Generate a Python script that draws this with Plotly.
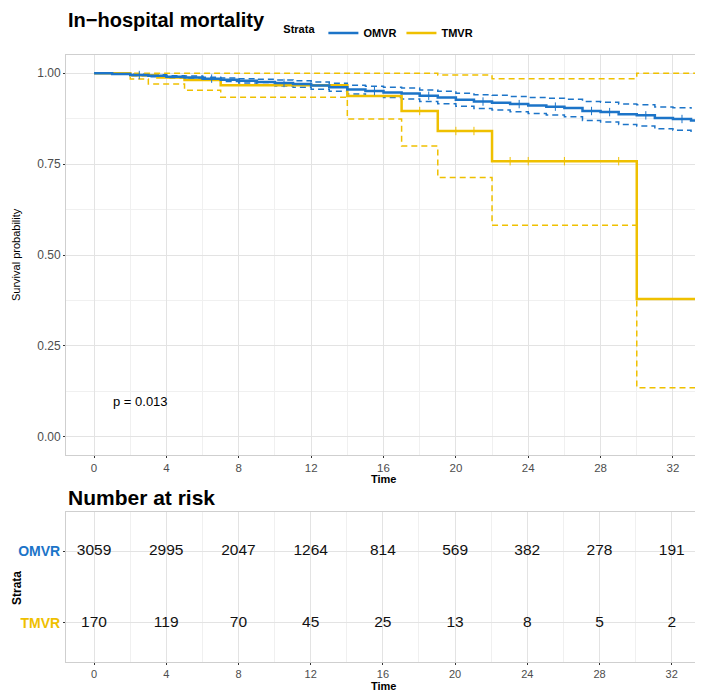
import plotly.graph_objects as go

# colours
BLUE = '#1C74C8'
GOLD = '#EFC000'

# ---- survival curves ----
omvr_t = list(range(0, 34))
omvr_s = [1.000, 0.998, 0.995, 0.993, 0.990, 0.988, 0.985, 0.982, 0.979, 0.976,
          0.973, 0.970, 0.966, 0.961, 0.955, 0.951, 0.947, 0.944, 0.938, 0.933,
          0.927, 0.922, 0.919, 0.915, 0.911, 0.908, 0.904, 0.896, 0.893, 0.887,
          0.884, 0.877, 0.874, 0.870]
omvr_lo = [1.000, 0.997, 0.993, 0.990, 0.987, 0.984, 0.981, 0.977, 0.973, 0.969,
           0.965, 0.961, 0.956, 0.950, 0.943, 0.938, 0.933, 0.929, 0.922, 0.916,
           0.909, 0.903, 0.899, 0.894, 0.889, 0.885, 0.880, 0.870, 0.866, 0.859,
           0.855, 0.847, 0.843, 0.838]
omvr_hi = [1.000, 0.999, 0.997, 0.996, 0.993, 0.992, 0.989, 0.987, 0.985, 0.983,
           0.981, 0.979, 0.976, 0.972, 0.967, 0.964, 0.961, 0.959, 0.954, 0.950,
           0.945, 0.941, 0.939, 0.936, 0.933, 0.931, 0.928, 0.922, 0.920, 0.915,
           0.913, 0.907, 0.905, 0.902]

tmvr_t = [0, 2, 3.5, 5, 7, 14, 17, 19, 22, 30, 33.5]
tmvr_s = [1.000, 0.994, 0.988, 0.981, 0.967, 0.937, 0.896, 0.841, 0.758, 0.379, 0.379]
tmvr_lo_t = [0, 2, 3, 5, 7, 14, 17, 19, 22, 30, 33.5]
tmvr_lo = [1.000, 0.984, 0.970, 0.953, 0.934, 0.874, 0.800, 0.713, 0.582, 0.135, 0.135]
tmvr_hi_t = [0, 19, 22, 30, 33.5]
tmvr_hi = [1.000, 0.995, 0.985, 1.000, 1.000]

# censor marks
omvr_cens_t = [2.5, 6.5, 10.5, 15.5, 18.5, 21.5, 23.5, 25.5, 27.5, 28.5, 30.5, 32.5]
omvr_cens_s = [0.995, 0.985, 0.973, 0.951, 0.938, 0.922, 0.915, 0.908, 0.896, 0.893, 0.884, 0.874]
tmvr_cens_t = [18, 20, 21, 23, 24, 26, 29]
tmvr_cens_s = [0.896, 0.841, 0.841, 0.758, 0.758, 0.758, 0.758]

# ---- number at risk ----
risk_times = [0, 4, 8, 12, 16, 20, 24, 28, 32]
risk_omvr = [3059, 2995, 2047, 1264, 814, 569, 382, 278, 191]
risk_tmvr = [170, 119, 70, 45, 25, 13, 8, 5, 2]

x_ticks = [0, 4, 8, 12, 16, 20, 24, 28, 32]
y_ticks = [0, 0.25, 0.5, 0.75, 1.0]
y_ticklabels = ['0.00', '0.25', '0.50', '0.75', '1.00']

fig = go.Figure()

dash_ci = '6px,4px'
fig.add_trace(go.Scatter(x=omvr_t, y=omvr_hi, mode='lines', line=dict(color=BLUE, width=1.5, dash=dash_ci, shape='hv'),
                         showlegend=False, hoverinfo='skip'))
fig.add_trace(go.Scatter(x=omvr_t, y=omvr_lo, mode='lines', line=dict(color=BLUE, width=1.5, dash=dash_ci, shape='hv'),
                         showlegend=False, hoverinfo='skip'))
fig.add_trace(go.Scatter(x=tmvr_hi_t, y=tmvr_hi, mode='lines', line=dict(color=GOLD, width=1.5, dash=dash_ci, shape='hv'),
                         showlegend=False, hoverinfo='skip'))
fig.add_trace(go.Scatter(x=tmvr_lo_t, y=tmvr_lo, mode='lines', line=dict(color=GOLD, width=1.5, dash=dash_ci, shape='hv'),
                         showlegend=False, hoverinfo='skip'))
fig.add_trace(go.Scatter(x=tmvr_t, y=tmvr_s, mode='lines', name='<b>TMVR</b>', line=dict(color=GOLD, width=2.5, shape='hv'),
                         legendrank=2))
fig.add_trace(go.Scatter(x=omvr_t + [33.5], y=omvr_s + [omvr_s[-1]], mode='lines', name='<b>OMVR</b>',
                         line=dict(color=BLUE, width=2.5, shape='hv'), legendrank=1))
fig.add_trace(go.Scatter(x=omvr_cens_t, y=omvr_cens_s, mode='markers', showlegend=False, hoverinfo='skip',
                         marker=dict(symbol='line-ns-open', size=6, color=BLUE, line=dict(color=BLUE, width=1))))
fig.add_trace(go.Scatter(x=tmvr_cens_t, y=tmvr_cens_s, mode='markers', showlegend=False, hoverinfo='skip',
                         marker=dict(symbol='line-ns-open', size=6, color=GOLD, line=dict(color=GOLD, width=1))))

# risk table
fig.add_trace(go.Scatter(x=risk_times, y=[1] * len(risk_times), mode='text', text=[str(v) for v in risk_omvr],
                         textfont=dict(size=15.5, color='#111111'),
                         xaxis='x2', yaxis='y2', showlegend=False))
fig.add_trace(go.Scatter(x=risk_times, y=[0] * len(risk_times), mode='text', text=[str(v) for v in risk_tmvr],
                         textfont=dict(size=15.5, color='#111111'),
                         xaxis='x2', yaxis='y2', showlegend=False))

axis_common = dict(showline=True, mirror=True, linecolor='#CFCFCF', linewidth=1,
                   gridcolor='#E3E3E3', gridwidth=1, zeroline=False,
                   ticks='outside', ticklen=2, tickcolor='#333333',
                   tickfont=dict(size=12, color='#4D4D4D'))
x_axis_common = {**axis_common, 'tickfont': dict(size=11.5, color='#4D4D4D')}
minor_x = dict(dtick=2, tick0=0, showgrid=True, gridcolor='#F0F0F0', ticks='')

# the page puts the figure 8px in from the top-left corner
fig.update_layout(
    width=695, height=685,
    margin=dict(l=0, r=0, t=0, b=0),
    plot_bgcolor='white', paper_bgcolor='white',
    font=dict(family='Liberation Sans', color='black'),
    xaxis=dict(domain=[0.0835, 0.9971], range=[-1.55, 33.55], tickvals=x_ticks, minor=minor_x,
               **x_axis_common),
    yaxis=dict(domain=[0.3474, 0.9314], range=[-0.05, 1.05], tickvals=y_ticks, ticktext=y_ticklabels,
               minor=dict(dtick=0.125, tick0=0, showgrid=True, gridcolor='#F0F0F0', ticks=''),
               **axis_common),
    xaxis2=dict(domain=[0.0835, 0.9914], range=[-1.55, 33.4], tickvals=x_ticks, anchor='y2',
                minor=minor_x, **{**axis_common, 'tickfont': dict(size=11, color='#4D4D4D')}),
    yaxis2=dict(domain=[0.0455, 0.2642], range=[-0.55, 1.556], anchor='x2', tickvals=[1, 0],
                ticktext=["<b><span style='color:%s'>OMVR</span></b>" % BLUE,
                          "<b><span style='color:%s'>TMVR</span></b>" % GOLD],
                **{**axis_common, 'tickfont': dict(size=14)}),
    legend=dict(orientation='h', x=0.535, xanchor='center', y=0.9635, yanchor='middle',
                title=dict(text='<b>Strata</b>', font=dict(size=11)),
                font=dict(size=11), itemwidth=30, traceorder='normal'),
    annotations=[
        dict(text='<b>In\u2212hospital mortality</b>', x=0.0835, y=0.983, xref='paper', yref='paper',
             xanchor='left', yanchor='middle', showarrow=False, font=dict(size=20)),
        dict(text='Survival probability', x=0.0, y=0.6394, xref='paper', yref='paper',
             xanchor='left', yanchor='middle', textangle=-90, showarrow=False, font=dict(size=11)),
        dict(text='<b>Time</b>', x=0.5396, y=0.3125, xref='paper', yref='paper',
             xanchor='center', yanchor='middle', showarrow=False, font=dict(size=11)),
        dict(text='p = 0.013', x=2.55, y=0.097, xref='x', yref='y', xanchor='center', yanchor='middle',
             showarrow=False, font=dict(size=13)),
        dict(text='<b>Number at risk</b>', x=0.0835, y=0.2861, xref='paper', yref='paper',
             xanchor='left', yanchor='middle', showarrow=False, font=dict(size=21)),
        dict(text='<b>Strata</b>', x=0.0, y=0.1533, xref='paper', yref='paper',
             xanchor='left', yanchor='middle', textangle=-90, showarrow=False, font=dict(size=12)),
        dict(text='<b>Time</b>', x=0.5396, y=-0.002, xref='paper', yref='paper',
             xanchor='center', yanchor='bottom', showarrow=False, font=dict(size=11)),
    ],
)

fig.write_html('out.html')
